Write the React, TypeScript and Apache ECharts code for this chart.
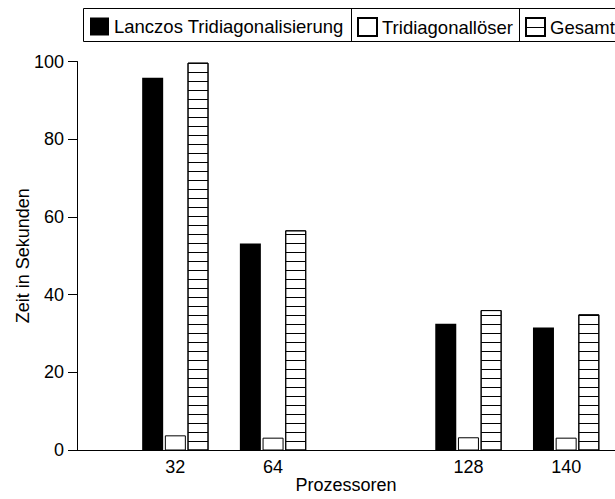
import React, { useEffect, useRef } from "react";
import * as echarts from "echarts";

const categories = ["32", "64", "", "128", "140"];
const seriesNames = ["Lanczos Tridiagonalisierung", "Tridiagonallöser", "Gesamt"];
const lanczosValues = [95.8, 53.2, null, 32.6, 31.6];
const solverValues = [3.9, 3.3, null, 3.4, 3.3];
const totalValues = [99.7, 56.6, null, 36.1, 35.0];
const yMin = 0;
const yMax = 100;
const yInterval = 20;

export default function App() {
  const ref = useRef<HTMLDivElement>(null);

  useEffect(() => {
    document.body.style.margin = "0";
    const chart = echarts.init(ref.current!, null, { renderer: "svg" });
    const font = "'Liberation Sans', Arial, Helvetica, sans-serif";
    const black = "#000";

    const hatch = {
      symbol: "rect",
      symbolSize: 1,
      dashArrayX: [1, 0],
      dashArrayY: [1, 7.67],
      rotation: 0,
      color: black,
    };

    const legendBase = {
      top: 17,
      orient: "horizontal",
      itemWidth: 19,
      itemHeight: 18,
      itemGap: 0,
      padding: 0,
      selectedMode: false,
      icon: "rect",
      textStyle: { fontFamily: font, fontSize: 18.5, color: black },
    };

    const axisTextStyle = { fontFamily: font, fontSize: 18, color: black };
    const gridBox = { top: 61.5, bottom: 48.5, right: -13.5 };

    chart.setOption({
      animation: false,
      textStyle: { fontFamily: font },
      legend: [
        { ...legendBase, left: 90, data: [seriesNames[0]] },
        { ...legendBase, left: 357, data: [seriesNames[1]] },
        { ...legendBase, left: 525, data: [seriesNames[2]] },
      ],
      graphic: [
        {
          type: "rect",
          shape: { x: 83.5, y: 8.5, width: 600, height: 33 },
          style: { fill: "none", stroke: black, lineWidth: 1 },
          silent: true,
        },
        {
          type: "line",
          shape: { x1: 351.5, y1: 8.5, x2: 351.5, y2: 41.5 },
          style: { stroke: black, lineWidth: 1 },
          silent: true,
        },
        {
          type: "line",
          shape: { x1: 519.5, y1: 8.5, x2: 519.5, y2: 41.5 },
          style: { stroke: black, lineWidth: 1 },
          silent: true,
        },
      ],
      grid: [
        { ...gridBox, left: 126.5 },
        { ...gridBox, left: 77 },
      ],
      xAxis: [
        {
          gridIndex: 0,
          type: "category",
          data: categories,
          axisLine: { show: false },
          axisTick: { show: false },
          axisLabel: { ...axisTextStyle, margin: 7 },
          splitLine: { show: false },
        },
        {
          gridIndex: 1,
          type: "value",
          min: 0,
          max: 1,
          name: "Prozessoren",
          nameLocation: "middle",
          nameGap: 26,
          nameMoveOverlap: false,
          nameTextStyle: axisTextStyle,
          axisLine: { show: true, lineStyle: { color: black, width: 1 } },
          axisTick: { show: false },
          axisLabel: { show: false },
          splitLine: { show: false },
        },
      ],
      yAxis: [
        {
          gridIndex: 0,
          type: "value",
          min: yMin,
          max: yMax,
          interval: yInterval,
          show: false,
        },
        {
          gridIndex: 1,
          type: "value",
          min: yMin,
          max: yMax,
          interval: yInterval,
          name: "Zeit in Sekunden",
          nameLocation: "middle",
          nameGap: 45,
          nameMoveOverlap: false,
          nameTextStyle: axisTextStyle,
          axisLine: { show: true, lineStyle: { color: black, width: 1 } },
          axisTick: { show: true, inside: false, length: 9, lineStyle: { color: black, width: 1 } },
          axisLabel: { ...axisTextStyle, margin: 13 },
          splitLine: { show: false },
        },
      ],
      series: [
        {
          name: seriesNames[0],
          type: "bar",
          xAxisIndex: 0,
          yAxisIndex: 0,
          data: lanczosValues,
          barWidth: 21,
          barGap: "8%",
          itemStyle: { color: black, borderWidth: 0 },
        },
        {
          name: seriesNames[1],
          type: "bar",
          xAxisIndex: 0,
          yAxisIndex: 0,
          data: solverValues,
          barWidth: 21,
          barGap: "8%",
          itemStyle: { color: "#fff", borderColor: black, borderWidth: 1 },
        },
        {
          name: seriesNames[2],
          type: "bar",
          xAxisIndex: 0,
          yAxisIndex: 0,
          data: totalValues,
          barWidth: 21,
          barGap: "8%",
          itemStyle: { color: "#fff", borderColor: black, borderWidth: 1, decal: hatch },
        },
      ],
    });

    return () => chart.dispose();
  }, []);

  return <div ref={ref} style={{ width: 615, height: 499 }} />;
}
